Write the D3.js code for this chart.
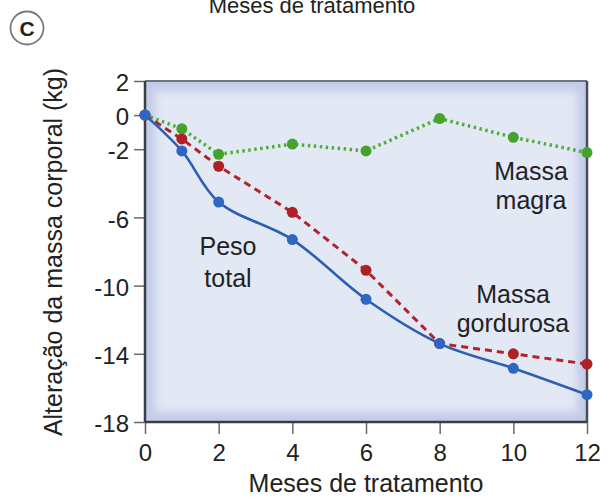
<!DOCTYPE html>
<html>
<head>
<meta charset="utf-8">
<script src="https://cdn.jsdelivr.net/npm/d3@7"></script>
<style>
  html, body { margin: 0; padding: 0; background: #fff; }
  text { font-family: "Liberation Sans", Arial, Helvetica, sans-serif; fill: #222; }
</style>
</head>
<body>
<svg id="chart" width="611" height="499"></svg>
<script>
const months = [0, 1, 2, 4, 6, 8, 10, 12];
const pesoTotal = [0, -2.1, -5.1, -7.3, -10.8, -13.4, -14.85, -16.4];
const massaGordurosa = [0, -1.4, -3.0, -5.7, -9.1, -13.4, -14.0, -14.6];
const massaMagra = [0, -0.8, -2.3, -1.7, -2.1, -0.2, -1.3, -2.2];
const xTicks = [0, 2, 4, 6, 8, 10, 12];
const yTicks = [2, 0, -2, -6, -10, -14, -18];
const xLabel = "Meses de tratamento";
const yLabel = "Alteração da massa corporal (kg)";
const topTitle = "Meses de tratamento";
const panelLetter = "C";

const svg = d3.select("#chart");
const L = 145, R = 587, T = 81, B = 422;
const x = d3.scaleLinear().domain([0, 12]).range([L, R]);
const y = d3.scaleLinear().domain([-18, 2]).range([B, T]);

const defs = svg.append("defs");
const f = defs.append("filter").attr("id", "soft").attr("x", "-10%").attr("y", "-10%").attr("width", "120%").attr("height", "120%");
f.append("feGaussianBlur").attr("stdDeviation", 4);

// background
svg.append("rect").attr("x", L).attr("y", T).attr("width", R - L).attr("height", B - T).attr("fill", "#c2cce8");
svg.append("rect").attr("x", L + 10).attr("y", T + 10).attr("width", R - L - 20).attr("height", B - T - 20)
  .attr("fill", "#e3e8f5").attr("filter", "url(#soft)");

// top & right borders
svg.append("line").attr("x1", L).attr("x2", R).attr("y1", T).attr("y2", T).attr("stroke", "#6f737c").attr("stroke-width", 2);
svg.append("line").attr("x1", R).attr("x2", R).attr("y1", T).attr("y2", B).attr("stroke", "#4a4d55").attr("stroke-width", 2.5);

// axes
const fmt = d => String(d);
const yAxis = d3.axisLeft(y).tickValues(yTicks).tickFormat(fmt).tickSize(11).tickPadding(5);
const xAxis = d3.axisBottom(x).tickValues(xTicks).tickFormat(fmt).tickSize(12).tickPadding(9);

const gy = svg.append("g").attr("transform", `translate(${L},0)`).call(yAxis);
const gx = svg.append("g").attr("transform", `translate(0,${B})`).call(xAxis);
[gx, gy].forEach(g => {
  g.select(".domain").remove();
  g.selectAll(".tick line").attr("stroke", "#6a6a6a").attr("stroke-width", 1.5);
  g.selectAll(".tick text").attr("font-size", 24).attr("fill", "#222")
    .attr("font-family", "'Liberation Sans', Arial, sans-serif");
});
gy.selectAll(".tick text").attr("dy", "0.4em");
gx.selectAll(".tick text").attr("dy", "0.75em");

svg.append("line").attr("x1", L).attr("x2", L).attr("y1", T).attr("y2", B).attr("stroke", "#3a3d44").attr("stroke-width", 2.5);
svg.append("line").attr("x1", L).attr("x2", R).attr("y1", B).attr("y2", B).attr("stroke", "#3a3d44").attr("stroke-width", 2.5);

// series
const series = [
  { vals: massaMagra, color: "#4fae35", dot: "#45a22f", dash: "2.5,3.5", width: 3.5, curve: d3.curveLinear },
  { vals: massaGordurosa, color: "#b3232b", dot: "#b01e26", dash: "7,5", width: 3, curve: d3.curveLinear },
  { vals: pesoTotal, color: "#2c5fb3", dot: "#2f66c2", dash: null, width: 2.6, curve: d3.curveCatmullRom.alpha(0.5) }
];
series.forEach(s => {
  const pts = months.map((m, i) => [m, s.vals[i]]);
  const line = d3.line().x(d => x(d[0])).y(d => y(d[1])).curve(s.curve);
  svg.append("path").datum(pts).attr("d", line).attr("fill", "none")
    .attr("stroke", s.color).attr("stroke-width", s.width)
    .attr("stroke-dasharray", s.dash);
  svg.append("g").selectAll("circle").data(pts).join("circle")
    .attr("cx", d => x(d[0])).attr("cy", d => y(d[1])).attr("r", 5.5).attr("fill", s.dot);
});

// annotations
function label(lines, cx, y0, gap) {
  const t = svg.append("text").attr("text-anchor", "middle").attr("font-size", 25).attr("fill", "#222");
  lines.forEach((l, i) => t.append("tspan").attr("x", cx).attr("y", y0 + i * gap).text(l));
}
label(["Peso", "total"], 228, 255, 32);
label(["Massa", "magra"], 531, 180, 29);
label(["Massa", "gordurosa"], 513, 303, 29);

// axis labels
svg.append("text").attr("x", (L + R) / 2).attr("y", 492).attr("text-anchor", "middle")
  .attr("font-size", 25).text(xLabel);
svg.append("text").attr("transform", "translate(62,252) rotate(-90)").attr("text-anchor", "middle")
  .attr("font-size", 25).text(yLabel);

// cropped top title (cut at the top edge, as in the reference)
svg.append("text").attr("x", 312).attr("y", 13).attr("text-anchor", "middle")
  .attr("font-size", 22).attr("fill", "#333").text(topTitle);

// panel letter
svg.append("circle").attr("cx", 27).attr("cy", 28).attr("r", 16.5).attr("fill", "#fff")
  .attr("stroke", "#7a7a7a").attr("stroke-width", 1.8);
svg.append("text").attr("x", 27).attr("y", 35.5).attr("text-anchor", "middle")
  .attr("font-size", 21).attr("font-weight", "bold").attr("fill", "#222").text(panelLetter);
</script>
</body>
</html>
